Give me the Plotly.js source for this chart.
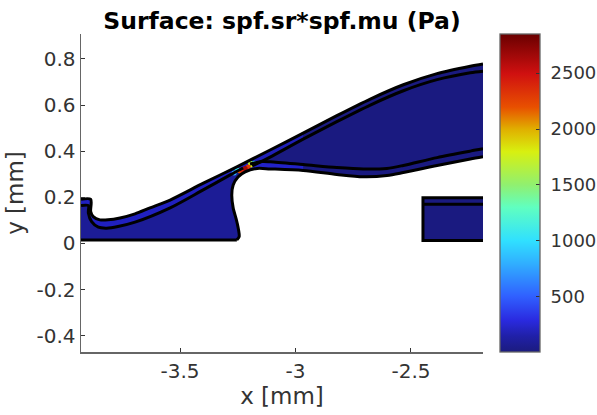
<!DOCTYPE html>
<html><head><meta charset="utf-8">
<script src="https://cdn.plot.ly/plotly-3.0.1.min.js"></script>
<style>html,body{margin:0;padding:0;background:#fff}</style></head>
<body><div id="chart" style="width:597px;height:415px"></div>
<script>
// Outer wall of the domain, left to right (mm)
const wallX=[-3.929,-3.887,-3.887,-3.876,-3.847,-3.812,-3.760,-3.695,-3.630,-3.543,-3.399,-3.254,-3.110,-2.967,-2.821,-2.676,-2.533,-2.387,-2.243,-2.188];
const wallY=[.191,.191,.138,.116,.102,.102,.110,.128,.154,.188,.261,.332,.405,.478,.554,.626,.688,.736,.768,.778];
// Inner line under the wall: left part
const innerAX=[-3.929,-3.897,-3.897,-3.883,-3.854,-3.818,-3.769,-3.695,-3.543,-3.400,-3.283,-3.227];
const innerAY=[.164,.164,.132,.094,.070,.066,.073,.092,.154,.232,.297,.327];
// Inner line under the wall: right part
const innerBX=[-3.188,-3.140,-3.110,-2.967,-2.821,-2.676,-2.533,-2.387,-2.243,-2.188];
const innerBY=[.336,.359,.374,.452,.528,.600,.662,.710,.740,.747];
// Line above the nozzle surface
const upperNozX=[-3.197,-3.145,-3.110,-2.967,-2.821,-2.707,-2.604,-2.533,-2.387,-2.243,-2.188];
const upperNozY=[.344,.355,.354,.342,.329,.3225,.325,.338,.372,.400,.410];
// Nozzle surface, right to left, down to the base
const nozX=[-2.188,-2.243,-2.387,-2.533,-2.604,-2.707,-2.821,-2.967,-3.110,-3.166,-3.218,-3.249,-3.270,-3.276,-3.270,-3.254,-3.244,-3.254];
const nozY=[.376,.366,.338,.307,.294,.289,.299,.316,.323,.325,.310,.288,.253,.210,.154,.094,.029,.015];
// Base line
const baseX=[-3.254,-3.929];
const baseY=[.015,.015];
// Separate block on the right
const boxX=[-2.188,-2.448,-2.448,-2.188];
const boxY=[.198,.198,.012,.012];
const boxInnerX=[-2.448,-2.188];
const boxInnerY=[.170,.170];
// High-stress spot near the throat
const hotX=[-3.266,-3.253,-3.179,-3.196,-3.192,-3.240,-3.205,-3.231,-3.218];
const hotY=[.305,.318,.348,.349,.340,.314,.331,.318,.325];
const hotV=[800,1000,1000,1600,1800,2200,2300,2400,2650];
// Axis ticks
const xTicks=[-3.5,-3,-2.5], xTickText=["-3.5","-3","-2.5"];
const yTicks=[-.4,-.2,0,.2,.4,.6,.8], yTickText=["-0.4","-0.2","0","0.2","0.4","0.6","0.8"];
const cbarTicks=[500,1000,1500,2000,2500];
const jet=[[0,'#1b1b7e'],[.05,'#2020a8'],[.1,'#2a2ae0'],[.175,'#3060ff'],[.28,'#30b0ff'],[.35,'#30e0ff'],[.455,'#60ffc0'],[.525,'#90f070'],[.63,'#d8f010'],[.7,'#e0b000'],[.77,'#e85000'],[.875,'#d01010'],[1,'#6a0000']];

const line=(x,y,w=3)=>({x,y,mode:'lines',type:'scatter',hoverinfo:'skip',showlegend:false,line:{color:'#000',width:w,shape:'spline',smoothing:.8}});
const sharp=(x,y,w=3)=>({x,y,mode:'lines',type:'scatter',hoverinfo:'skip',showlegend:false,line:{color:'#000',width:w}});
const fill=(x,y,c)=>({x,y,mode:'none',type:'scatter',fill:'toself',fillcolor:c,hoverinfo:'skip',showlegend:false});

const domainX=wallX.concat(nozX,baseX), domainY=wallY.concat(nozY,baseY);
const data=[
 fill(domainX,domainY,'#1a1a80'),
 fill(wallX.slice(0,12).concat(nozX.slice(11),baseX),wallY.slice(0,12).concat(nozY.slice(11),baseY),'#1c1c96'),
 fill(wallX.slice(0,13).concat(innerAX.slice().reverse()),wallY.slice(0,13).concat(innerAY.slice().reverse()),'#2020c0'),
 fill(wallX.slice(11,14).concat(innerBX.slice(0,4).reverse()),wallY.slice(11,14).concat(innerBY.slice(0,4).reverse()),'#2020b8'),
 fill(upperNozX.slice(0,4).concat(nozX.slice(7,11)),upperNozY.slice(0,4).concat(nozY.slice(7,11)),'#2222c8'),
 fill(boxX,boxY,'#1a1a80'),
 {x:hotX,y:hotY,mode:'markers',type:'scatter',hoverinfo:'skip',showlegend:false,
  marker:{size:5,color:hotV,cmin:5,cmax:2850,colorscale:jet,line:{width:0},
   colorbar:{xref:'container',x:500/597,xanchor:'left',xpad:0,ypad:0,yref:'paper',y:.5,yanchor:'middle',len:1,lenmode:'fraction',
    thickness:40,thicknessmode:'pixels',outlinecolor:'#666',outlinewidth:1.3,borderwidth:0,
    tickmode:'array',tickvals:cbarTicks,ticktext:cbarTicks.map(v=>'\u00a0'+v),ticks:'inside',ticklen:4,tickwidth:1,tickcolor:'#333',
    tickfont:{family:'DejaVu Sans',size:18,color:'#333'}}}},
 line(wallX,wallY),line(innerAX,innerAY),line(innerBX,innerBY),line(upperNozX,upperNozY),line(nozX,nozY),
 sharp(baseX,baseY),sharp(boxX,boxY),sharp(boxInnerX,boxInnerY)
];
const axis={showgrid:false,zeroline:false,showline:true,linecolor:'#666',linewidth:1.5,mirror:false,ticks:'inside',ticklen:4,tickwidth:1,tickcolor:'#333',tickfont:{family:'DejaVu Sans',size:20,color:'#333'},tickmode:'array'};
const layout={width:597,height:415,margin:{l:81,r:114,t:34,b:63,pad:0},paper_bgcolor:'#fff',plot_bgcolor:'#fff',showlegend:false,
 title:{text:'<b>Surface: spf.sr*spf.mu (Pa)</b>',font:{family:'DejaVu Sans',size:23.5,color:'#000'},x:282/597,xanchor:'center',y:1-21/415,yanchor:'middle'},
 xaxis:Object.assign({},axis,{range:[-3.929,-2.188],tickvals:xTicks,ticktext:xTickText,title:{text:'x [mm]',standoff:6,font:{family:'DejaVu Sans',size:23,color:'#333'}}}),
 yaxis:Object.assign({},axis,{range:[-.471,.908],tickvals:yTicks,ticktext:yTickText,title:{text:'y [mm]',standoff:6,font:{family:'DejaVu Sans',size:23,color:'#333'}}})
};
Plotly.newPlot('chart',data,layout,{staticPlot:true,displayModeBar:false});
</script></body></html>
